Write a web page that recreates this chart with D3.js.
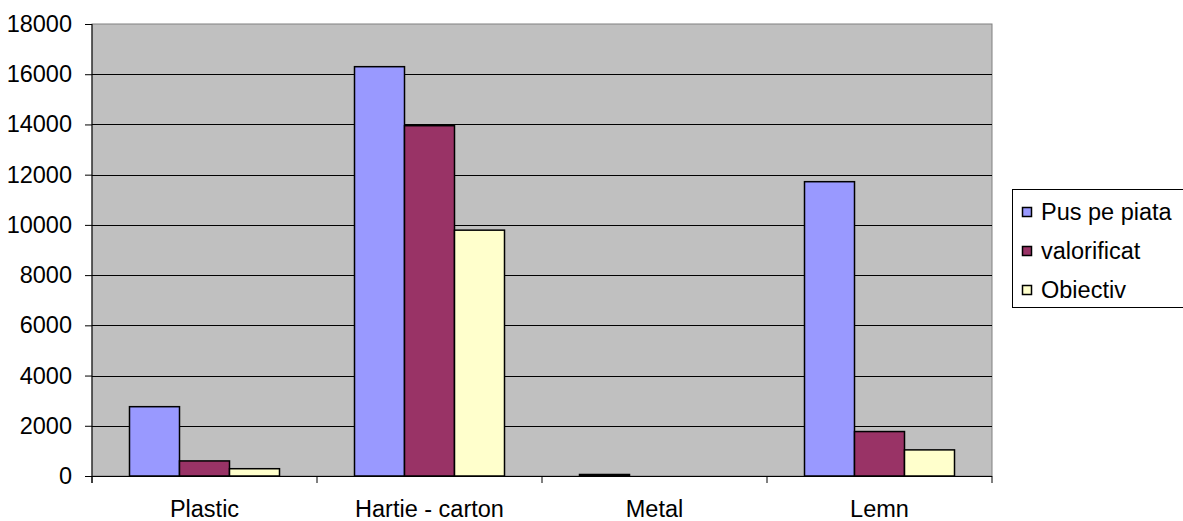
<!DOCTYPE html>
<html>
<head>
<meta charset="utf-8">
<script src="https://cdn.jsdelivr.net/npm/d3@7"></script>
<style>
  body { margin: 0; background: #fff; }
  svg { display: block; font-family: "Liberation Sans", Arial, sans-serif; }
</style>
</head>
<body>
<svg></svg>
<script>
var categories = ["Plastic", "Hartie - carton", "Metal", "Lemn"];
var seriesNames = ["Pus pe piata", "valorificat", "Obiectiv"];
var pusPePiata = [2760, 16300, 60, 11720];
var valorificat = [600, 13950, 0, 1770];
var obiectiv = [290, 9790, 0, 1040];
var yTicks = [0, 2000, 4000, 6000, 8000, 10000, 12000, 14000, 16000, 18000];
var colors = ["#9999ff", "#993366", "#ffffcc"];

var svgWidth = 1183, svgHeight = 521;
var plotLeft = 92, plotRight = 992, plotTop = 24, plotBottom = 476;
var fontSize = "23.5px";

var svg = d3.select('svg')
  .attr('width', svgWidth)
  .attr('height', svgHeight)

var x = d3.scaleBand()
  .domain(categories)
  .range([plotLeft, plotRight])
  .paddingInner(1/3)
  .paddingOuter(1/6);

var xSeries = d3.scaleBand()
  .domain(seriesNames)
  .range([0, x.bandwidth()]);

var y = d3.scaleLinear()
  .domain([0, 18000])
  .range([plotBottom, plotTop]);

// plot area
svg.append("rect")
  .attr("x", plotLeft)
  .attr("y", plotTop)
  .attr("width", plotRight - plotLeft)
  .attr("height", plotBottom - plotTop)
  .attr("fill", "#c0c0c0")
  .attr("stroke", "#808080")
  .attr("stroke-width", 1);

// gridlines
svg.selectAll("line.grid")
  .data(yTicks.filter(function (d) { return d > 0 && d < 18000; }))
  .enter()
  .append("line")
  .attr("class", "grid")
  .attr("x1", plotLeft)
  .attr("x2", plotRight)
  .attr("y1", function (d) { return Math.round(y(d)) + 0.5; })
  .attr("y2", function (d) { return Math.round(y(d)) + 0.5; })
  .attr("stroke", "#000")
  .attr("stroke-width", 1);

// bars
var table = categories.map(function (c, i) {
  return [pusPePiata[i], valorificat[i], obiectiv[i]];
});

var groups = svg.selectAll("g.group")
  .data(table)
  .enter()
  .append("g")
  .attr("transform", function (d, i) {
    return "translate(" + x(categories[i]) + ",0)";
  });

groups.selectAll("rect")
  .data(function (d) {
    return d.map(function (v, j) { return { name: seriesNames[j], value: v, idx: j }; })
      .filter(function (e) { return e.value > 0; });
  })
  .enter()
  .append("rect")
  .attr("x", function (d) { return xSeries(d.name); })
  .attr("y", function (d) { return y(d.value); })
  .attr("width", xSeries.bandwidth())
  .attr("height", function (d) { return plotBottom - y(d.value); })
  .attr("fill", function (d) { return colors[d.idx]; })
  .attr("stroke", "#000")
  .attr("stroke-width", 1.5);

// y axis
var yAxis = d3.axisLeft(y)
  .tickValues(yTicks)
  .tickSize(7)
  .tickPadding(13)
  .tickFormat(d3.format("d"));

var gy = svg.append("g")
  .attr("transform", "translate(" + plotLeft + ",0)")
  .call(yAxis);
gy.select(".domain").attr("stroke", "#000").attr("d", "M0," + plotTop + "V" + (plotBottom + 7));
gy.selectAll("text")
  .attr("font-size", fontSize)
  .attr("font-family", "Liberation Sans, Arial, sans-serif")
  .attr("fill", "#000");

// x axis
var gx = svg.append("g")
  .attr("transform", "translate(0," + plotBottom + ")");
gx.append("line")
  .attr("x1", plotLeft)
  .attr("x2", plotRight)
  .attr("y1", 0.5)
  .attr("y2", 0.5)
  .attr("stroke", "#000");
gx.selectAll("line.tick")
  .data(d3.range(categories.length + 1))
  .enter()
  .append("line")
  .attr("class", "tick")
  .attr("x1", function (i) { return i < categories.length ? x(categories[i]) - x.step() * x.paddingInner() / 2 : plotRight; })
  .attr("x2", function (i) { return i < categories.length ? x(categories[i]) - x.step() * x.paddingInner() / 2 : plotRight; })
  .attr("y1", 0)
  .attr("y2", 7)
  .attr("stroke", "#000");
gx.selectAll("text")
  .data(categories)
  .enter()
  .append("text")
  .text(function (d) { return d; })
  .attr("x", function (d) { return x(d) + x.bandwidth() / 2; })
  .attr("y", 41)
  .attr("font-size", fontSize)
  .attr("text-anchor", "middle")
  .attr("fill", "#000");

// legend
var legend = svg.append("g");
legend.append("rect")
  .attr("x", 1012.5)
  .attr("y", 189.5)
  .attr("width", 200)
  .attr("height", 118)
  .attr("fill", "#fff")
  .attr("stroke", "#000");

var items = legend.selectAll("g.item")
  .data(seriesNames)
  .enter()
  .append("g")
  .attr("transform", function (d, i) { return "translate(1022," + (212 + i * 39) + ")"; });
items.append("rect")
  .attr("x", 0.5)
  .attr("y", -4.5)
  .attr("width", 9)
  .attr("height", 9)
  .attr("fill", function (d, i) { return colors[i]; })
  .attr("stroke", "#000")
  .attr("stroke-width", 1.5);
items.append("text")
  .text(function (d) { return d; })
  .attr("x", 19)
  .attr("y", 7.5)
  .attr("font-size", fontSize)
  .attr("fill", "#000");
</script>
</body>
</html>
